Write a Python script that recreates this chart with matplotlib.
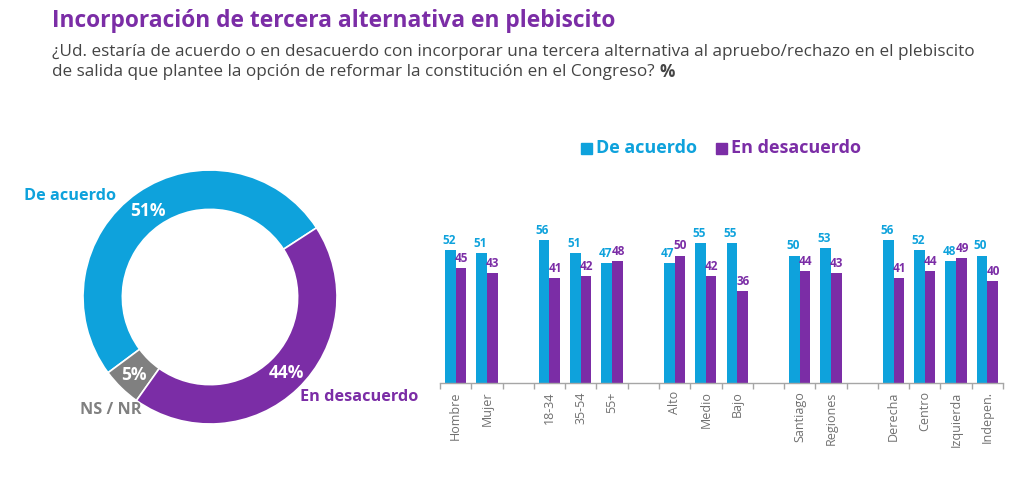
import matplotlib
matplotlib.use("Agg")
import matplotlib.pyplot as plt
import numpy as np

# ---------------- data ----------------
donut_labels = ["De acuerdo", "NS / NR", "En desacuerdo"]
donut_values = [51, 5, 44]

categories = ["Hombre", "Mujer", "", "18-34", "35-54", "55+", "",
              "Alto", "Medio", "Bajo", "", "Santiago", "Regiones", "",
              "Derecha", "Centro", "Izquierda", "Indepen."]
acuerdo = [52, 51, None, 56, 51, 47, None, 47, 55, 55, None, 50, 53, None, 56, 52, 48, 50]
desacuerdo = [45, 43, None, 41, 42, 48, None, 50, 42, 36, None, 44, 43, None, 41, 44, 49, 40]

BLUE = "#0EA2DC"
PURPLE = "#7B2DA6"
GRAY = "#808080"
TEXTGRAY = "#444444"

plt.rcParams['font.family'] = ['Open Sans', 'DejaVu Sans']

W, H = 1014, 482
fig = plt.figure(figsize=(W / 100, H / 100), dpi=100)


def fx(px):
    return px / W


def fy(py):
    return 1 - py / H


# ---------------- titles ----------------
fig.text(fx(52), fy(21), "Incorporación de tercera alternativa en plebiscito",
         color=PURPLE, fontsize=16.4, fontweight="bold", va="center", ha="left")
fig.text(fx(52), fy(52), "¿Ud. estaría de acuerdo o en desacuerdo con incorporar una tercera alternativa al apruebo/rechazo en el plebiscito",
         color=TEXTGRAY, fontsize=12.3, va="center", ha="left")
t2 = fig.text(fx(52), fy(72), "de salida que plantee la opción de reformar la constitución en el Congreso?",
              color=TEXTGRAY, fontsize=12.3, va="center", ha="left")
fig.canvas.draw()
bb = t2.get_window_extent()
fig.text((bb.x1 + 5) / W, fy(72), "%", color=TEXTGRAY, fontsize=12.3,
         fontweight="bold", va="center", ha="left")

# ---------------- donut ----------------
cx, cy, r = 210, 297, 127
axd = fig.add_axes([fx(cx - r), fy(cy + r), (2 * r) / W, (2 * r) / H])
axd.pie(donut_values, colors=[BLUE, GRAY, PURPLE], startangle=33, counterclock=True,
        radius=1, wedgeprops=dict(width=0.31, edgecolor="white", linewidth=1.2))
axd.set_xlim(-1, 1)
axd.set_ylim(-1, 1)
axd.set_aspect("equal")
axd.axis("off")

fig.text(fx(148), fy(211), f"{donut_values[0]}%", color="white", fontsize=12.5,
         fontweight="bold", ha="center", va="center")
fig.text(fx(134), fy(375), f"{donut_values[1]}%", color="white", fontsize=12.5,
         fontweight="bold", ha="center", va="center")
fig.text(fx(286), fy(373), f"{donut_values[2]}%", color="white", fontsize=12.5,
         fontweight="bold", ha="center", va="center")

fig.text(fx(24), fy(196), donut_labels[0], color=BLUE, fontsize=11.7,
         fontweight="bold", ha="left", va="center")
fig.text(fx(80), fy(410), donut_labels[1], color=GRAY, fontsize=11.7,
         fontweight="bold", ha="left", va="center")
fig.text(fx(300), fy(397), donut_labels[2], color=PURPLE, fontsize=11.7,
         fontweight="bold", ha="left", va="center")

# ---------------- bars ----------------
x0, x1, base = 440, 1003, 383
ymax = 60
ppu = 2.55
axb = fig.add_axes([fx(x0), fy(base), (x1 - x0) / W, (ymax * ppu) / H])
n = len(categories)
x = np.arange(n)
bw = 0.34
xa = [i for i in range(n) if acuerdo[i] is not None]
va = [acuerdo[i] for i in xa]
vd = [desacuerdo[i] for i in xa]
axb.bar(np.array(xa) - bw / 2, va, width=bw, color=BLUE)
axb.bar(np.array(xa) + bw / 2, vd, width=bw, color=PURPLE)
for xi, a, d in zip(xa, va, vd):
    axb.text(xi - bw / 2 - 0.05, a + 1.2, str(a), color=BLUE, fontsize=8.5,
             fontweight="bold", ha="center", va="bottom", clip_on=False)
    axb.text(xi + bw / 2 + 0.02, d + 1.2, str(d), color=PURPLE, fontsize=8.5,
             fontweight="bold", ha="center", va="bottom", clip_on=False)

axb.set_xlim(-0.5, n - 0.5)
axb.set_ylim(0, ymax)
axb.set_yticks([])
for s in ["top", "right", "left"]:
    axb.spines[s].set_visible(False)
axb.spines["bottom"].set_color("#A6A6A6")
axb.spines["bottom"].set_linewidth(1.0)
axb.set_xticks(x)
axb.set_xticklabels(categories, rotation=90, color="#707070", fontsize=9)
axb.tick_params(axis="x", length=0, pad=6)
axb.set_xticks(np.arange(n + 1) - 0.5, minor=True)
axb.tick_params(axis="x", which="minor", length=4, color="#A6A6A6", width=1)

# legend
fig.patches.append(plt.Rectangle((fx(581), fy(154)), 11 / W, 11 / H,
                                 transform=fig.transFigure, color=BLUE))
fig.text(fx(596), fy(148), "De acuerdo", color=BLUE, fontsize=13,
         fontweight="bold", ha="left", va="center")
fig.patches.append(plt.Rectangle((fx(716), fy(154)), 11 / W, 11 / H,
                                 transform=fig.transFigure, color=PURPLE))
fig.text(fx(731), fy(148), "En desacuerdo", color=PURPLE, fontsize=13,
         fontweight="bold", ha="left", va="center")

fig.savefig("out.png", dpi=100, facecolor="white")
